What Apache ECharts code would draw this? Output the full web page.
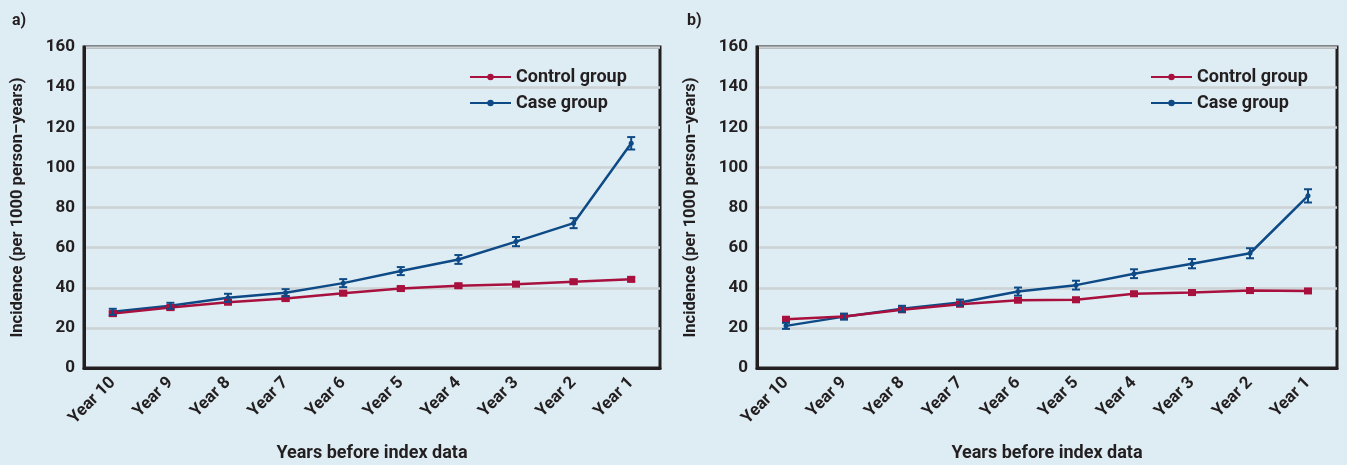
<!DOCTYPE html>
<html><head><meta charset="utf-8">
<script src="https://cdn.jsdelivr.net/npm/echarts@6/dist/echarts.min.js"></script>
<style>html,body{margin:0;padding:0;background:#deecf3;}#c{width:1347px;height:465px;}</style>
</head><body><div id="c"></div>
<script>
const categories = ['Year 10','Year 9','Year 8','Year 7','Year 6','Year 5','Year 4','Year 3','Year 2','Year 1'];
const yTicks = [0,20,40,60,80,100,120,140,160];
// Panel a
const controlA = [27.1, 30.1, 32.8, 34.6, 37.3, 39.6, 41.0, 41.8, 43.0, 44.2];
const caseA    = [28.0, 31.0, 35.0, 37.5, 42.3, 48.3, 54.1, 63.0, 72.2, 112.0];
const caseErrA = [1.5, 1.5, 2.0, 1.8, 2.0, 2.0, 2.2, 2.3, 2.5, 3.1];
const controlErrA = [1, 1, 1, 1, 1, 1, 1, 1, 1, 1];
// Panel b
const controlB = [24.3, 25.7, 29.0, 31.8, 33.8, 34.0, 37.0, 37.6, 38.6, 38.4];
const caseB    = [21.0, 25.6, 29.5, 32.6, 38.1, 41.3, 47.0, 52.0, 57.2, 85.8];
const caseErrB = [1.5, 1.5, 1.5, 1.5, 2.0, 2.2, 2.2, 2.3, 2.5, 3.3];
const controlErrB = [1, 1, 1, 1, 1, 1, 1, 1, 1, 1];

const RED = '#a8103e', BLUE = '#0e4a86', DARK = '#231f20', GRID = '#cdd2d5';
const FONT = 'Roboto';

function errData(vals, errs){ return vals.map((v,i)=>[i, v, errs[i]]); }
function errRender(color, square){
  return function(params, api){
    const i = api.value(0), v = api.value(1), e = api.value(2);
    const c = api.coord([i, v]);
    const hi = api.coord([i, v+e]);
    const lo = api.coord([i, v-e]);
    const hw = 4;
    const st = {stroke: color, lineWidth: 2};
    const ch = [
      {type:'line', shape:{x1:c[0],y1:hi[1],x2:c[0],y2:lo[1]}, style:st},
      {type:'line', shape:{x1:c[0]-hw,y1:hi[1],x2:c[0]+hw,y2:hi[1]}, style:st},
      {type:'line', shape:{x1:c[0]-hw,y1:lo[1],x2:c[0]+hw,y2:lo[1]}, style:st}
    ];
    if (square) ch.push({type:'rect', shape:{x:c[0]-4,y:c[1]-3.5,width:8,height:7}, style:{fill:color}});
    return {type:'group', children: ch};
  };
}

const grids = [
  {left:84, top:47, width:576, height:321},
  {left:757, top:47, width:580, height:321}
];
function xAxis(idx){
  return {type:'category', gridIndex:idx, data:categories, boundaryGap:true,
    axisLine:{show:true, lineStyle:{color:DARK, width:3}},
    axisTick:{show:false},
    axisLabel:{rotate:45, color:DARK, fontFamily:FONT, fontWeight:'bold', fontSize:17, margin:12, interval:0},
    name:'Years before index data', nameLocation:'middle', nameGap:76,
    nameTextStyle:{color:DARK, fontFamily:FONT, fontWeight:'bold', fontSize:18}};
}
function yAxis(idx){
  return {type:'value', gridIndex:idx, min:0, max:160, interval:20,
    axisLine:{show:true, lineStyle:{color:DARK, width:3}},
    axisTick:{show:false},
    axisLabel:{color:DARK, fontFamily:FONT, fontWeight:'bold', fontSize:17, margin:9},
    splitLine:{show:true, lineStyle:{color:GRID, width:2.5}},
    name:'Incidence (per 1000 person\u2013years)', nameLocation:'middle', nameGap:58,
    nameTextStyle:{color:DARK, fontFamily:FONT, fontWeight:'bold', fontSize:16.5}};
}
function lineSeries(name, data, color, idx){
  return {type:'line', name:name, xAxisIndex:idx, yAxisIndex:idx, data:data,
    symbol:'circle', symbolSize:5, showSymbol:true,
    lineStyle:{color:color, width:2.5}, itemStyle:{color:color}, z:3};
}
function errSeries(vals, errs, color, idx, square){
  return {type:'custom', xAxisIndex:idx, yAxisIndex:idx, data:errData(vals, errs),
    renderItem: errRender(color, square), z:4, silent:true};
}
function legend(left){
  return {left:left, top:63, orient:'vertical', itemWidth:41, itemHeight:8, itemGap:8,
    data:['Control group','Case group'],
    textStyle:{color:DARK, fontFamily:FONT, fontWeight:'bold', fontSize:18}};
}

const chart = echarts.init(document.getElementById('c'));
chart.setOption({
  backgroundColor:'#deecf3',
  animation:false,
  title:[
    {text:'a)', left:7, top:8, textStyle:{color:DARK, fontFamily:FONT, fontWeight:'bold', fontSize:16}},
    {text:'b)', left:682, top:8, textStyle:{color:DARK, fontFamily:FONT, fontWeight:'bold', fontSize:16}}
  ],
  grid: grids.map(g=>Object.assign({show:true, borderColor:DARK, borderWidth:3, backgroundColor:'transparent', containLabel:false, outerBoundsMode:'none'}, g)),
  legend:[legend(464), legend(1145)],
  xAxis:[xAxis(0), xAxis(1)],
  yAxis:[yAxis(0), yAxis(1)],
  series:[
    lineSeries('Case group', caseA, BLUE, 0),
    lineSeries('Control group', controlA, RED, 0),
    errSeries(controlA, controlErrA, RED, 0, true),
    errSeries(caseA, caseErrA, BLUE, 0, false),
    lineSeries('Case group', caseB, BLUE, 1),
    lineSeries('Control group', controlB, RED, 1),
    errSeries(controlB, controlErrB, RED, 1, true),
    errSeries(caseB, caseErrB, BLUE, 1, false)
  ]
});
</script></body></html>
